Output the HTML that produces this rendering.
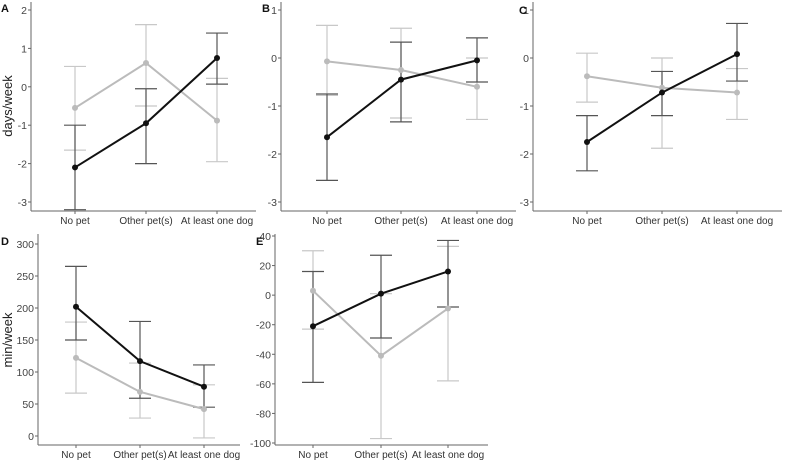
<!DOCTYPE html>
<html><head><meta charset="utf-8">
<style>
body{margin:0;background:#fff;}
svg{display:block;font-family:"Liberation Sans",Arial,sans-serif;}
</style></head>
<body>
<svg id="chart" width="788" height="460" viewBox="0 0 788 460"></svg>
<script>
const categories = ["No pet","Other pet(s)","At least one dog"];
// Panel A (days/week)
const aBlack = [-2.1,-0.95,0.75], aBlackLo = [-3.2,-2.0,0.07], aBlackHi = [-1.0,-0.05,1.4];
const aGray = [-0.55,0.62,-0.88], aGrayLo = [-1.65,-0.5,-1.95], aGrayHi = [0.53,1.62,0.22];
const aTicks = [2,1,0,-1,-2,-3];
// Panel B
const bBlack = [-1.65,-0.45,-0.05], bBlackLo = [-2.55,-1.33,-0.5], bBlackHi = [-0.75,0.33,0.42];
const bGray = [-0.07,-0.25,-0.6], bGrayLo = [-0.78,-1.25,-1.28], bGrayHi = [0.68,0.62,0.0];
const bTicks = [1,0,-1,-2,-3];
// Panel C
const cBlack = [-1.75,-0.72,0.08], cBlackLo = [-2.35,-1.2,-0.48], cBlackHi = [-1.2,-0.28,0.72];
const cGray = [-0.38,-0.62,-0.72], cGrayLo = [-0.92,-1.88,-1.28], cGrayHi = [0.1,0.0,-0.22];
const cTicks = [1,0,-1,-2,-3];
// Panel D (min/week)
const dBlack = [202,117,77], dBlackLo = [150,59,45], dBlackHi = [265,179,111];
const dGray = [122,69,42], dGrayLo = [67,28,-3], dGrayHi = [178,114,80];
const dTicks = [300,250,200,150,100,50,0];
// Panel E
const eBlack = [-21,1,16], eBlackLo = [-59,-29,-8], eBlackHi = [16,27,37];
const eGray = [3,-41,-9], eGrayLo = [-23,-97,-58], eGrayHi = [30,1,33];
const eTicks = [40,20,0,-20,-40,-60,-80,-100];

const NS="http://www.w3.org/2000/svg";
const svg=document.getElementById('chart');
function mk(tag,attrs,parent){const e=document.createElementNS(NS,tag);for(const k in attrs)e.setAttribute(k,attrs[k]);(parent||svg).appendChild(e);return e;}

function panel(cfg){
  const g=mk('g',{});
  
  
  const y=v=>cfg.y0+(v-cfg.v0)*(cfg.y1-cfg.y0)/(cfg.v1-cfg.v0);
  const x=i=>cfg.xs[i];
  const ya=mk('line',{x1:cfg.ax,y1:cfg.top,x2:cfg.ax,y2:cfg.base,stroke:'#666','stroke-width':1},g);
  
  
  const xa=mk('line',{x1:cfg.ax,y1:cfg.base,x2:cfg.right,y2:cfg.base,stroke:'#666','stroke-width':1},g);
  
  
  cfg.ticks.forEach(t=>{
    mk('line',{x1:cfg.ax-3,y1:y(t),x2:cfg.ax,y2:y(t),stroke:'#666'},g);
    const tx=mk('text',{x:cfg.ax-4,y:y(t)+4,'text-anchor':'end','font-size':10.5,fill:'#444'},g);
    tx.textContent=t;
    
    
  });
  categories.forEach((c,i)=>{
    mk('line',{x1:x(i),y1:cfg.base,x2:x(i),y2:cfg.base+3,stroke:'#666'},g);
    const tx=mk('text',{x:x(i),y:cfg.base+13,'text-anchor':'middle','font-size':10,fill:'#333'},g);
    tx.textContent=c;
    
    
  });
  const lab=mk('text',{x:cfg.lx,y:cfg.ly,'font-size':11,'font-weight':'bold',fill:'#111'},g);
  lab.textContent=cfg.id;
  
  
  if(cfg.title){
    const t=mk('text',{x:0,y:0,'font-size':13,fill:'#222','text-anchor':'middle',transform:`translate(${cfg.tx},${cfg.ty}) rotate(-90)`},g);
    t.textContent=cfg.title;
    
    
  }
  const series=[
    {m:cfg.gray,lo:cfg.grayLo,hi:cfg.grayHi,line:'#bbb',err:'#c8c8c8',name:'gray'},
    {m:cfg.black,lo:cfg.blackLo,hi:cfg.blackHi,line:'#111',err:'#555',name:'black'}
  ];
  series.forEach(s=>{
    s.m.forEach((v,i)=>{
      const eb=mk('g',{},g);
      
      
      mk('line',{x1:x(i),y1:y(s.lo[i]),x2:x(i),y2:y(s.hi[i]),stroke:s.err,'stroke-width':1.2},eb);
      mk('line',{x1:x(i)-11,y1:y(s.lo[i]),x2:x(i)+11,y2:y(s.lo[i]),stroke:s.err,'stroke-width':1.2},eb);
      mk('line',{x1:x(i)-11,y1:y(s.hi[i]),x2:x(i)+11,y2:y(s.hi[i]),stroke:s.err,'stroke-width':1.2},eb);
    });
  });
  series.forEach(s=>{
    const pl=mk('polyline',{points:s.m.map((v,i)=>x(i)+','+y(v)).join(' '),fill:'none',stroke:s.line,'stroke-width':2},g);
    
    
    s.m.forEach((v,i)=>{
      const c=mk('circle',{cx:x(i),cy:y(v),r:3,fill:s.line},g);
      
      
    });
  });
}

panel({id:'A',ax:31,top:2,base:211,right:256,xs:[75,146,217],v0:2,y0:10,v1:-3,y1:202,ticks:aTicks,
  black:aBlack,blackLo:aBlackLo,blackHi:aBlackHi,gray:aGray,grayLo:aGrayLo,grayHi:aGrayHi,lx:1,ly:12,title:'days/week',tx:12,ty:106});
panel({id:'B',ax:281,top:2,base:211,right:516,xs:[327,401,477],v0:1,y0:10,v1:-3,y1:202,ticks:bTicks,
  black:bBlack,blackLo:bBlackLo,blackHi:bBlackHi,gray:bGray,grayLo:bGrayLo,grayHi:bGrayHi,lx:262,ly:12});
panel({id:'C',ax:533,top:2,base:211,right:782,xs:[587,662,737],v0:1,y0:10,v1:-3,y1:202,ticks:cTicks,
  black:cBlack,blackLo:cBlackLo,blackHi:cBlackHi,gray:cGray,grayLo:cGrayLo,grayHi:cGrayHi,lx:519,ly:14});
panel({id:'D',ax:38,top:234,base:445,right:240,xs:[76,140,204],v0:300,y0:244,v1:0,y1:436,ticks:dTicks,
  black:dBlack,blackLo:dBlackLo,blackHi:dBlackHi,gray:dGray,grayLo:dGrayLo,grayHi:dGrayHi,lx:1,ly:245,title:'min/week',tx:12,ty:340});
panel({id:'E',ax:275,top:234,base:445,right:488,xs:[313,381,448],v0:40,y0:236,v1:-100,y1:443,ticks:eTicks,
  black:eBlack,blackLo:eBlackLo,blackHi:eBlackHi,gray:eGray,grayLo:eGrayLo,grayHi:eGrayHi,lx:256,ly:245});
</script>
</body></html>
